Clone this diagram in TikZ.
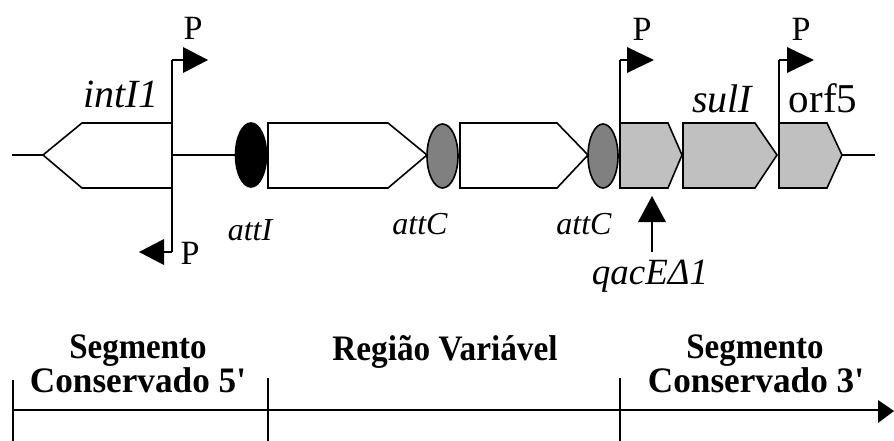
\documentclass[tikz,border=0pt]{standalone}
\usepackage{fontspec}
\usepackage{graphicx}
\setmainfont{Liberation Serif}
\newfontfamily\tnr{Liberation Serif}
\usetikzlibrary{shapes.geometric}
\definecolor{attgray}{RGB}{128,128,128}
\definecolor{genegray}{RGB}{192,192,192}
\begin{document}
\begin{tikzpicture}[x=1pt,y=-1pt,line width=1.6pt,
  gene/.style={draw=black,line width=1.6pt,line join=miter,fill=white},
  cgene/.style={gene,fill=genegray},
  att/.style={ellipse,draw=black,line width=1.6pt,inner sep=0pt,minimum width=31pt,minimum height=64pt},
  tip/.style={fill=black,draw=none},
  itlab/.style={font=\fontsize{40}{44}\selectfont\itshape,anchor=base,inner sep=0pt},
  smlab/.style={font=\fontsize{32}{36}\selectfont\itshape,anchor=base,inner sep=0pt},
  plab/.style={font=\fontsize{34}{38}\selectfont,anchor=base,inner sep=0pt},
  seglab/.style={font=\tnr\bfseries\fontsize{32}{38}\selectfont,anchor=base,inner sep=0pt}]
\useasboundingbox (0,0) rectangle (894,441);
\fill[white] (0,0) rectangle (894,441);

% backbone coordinates
\coordinate (lstart) at (12,155);
\coordinate (lend) at (875,155);

% genes
\draw[gene] (172,123) -- (82,123) -- (43,155) -- (82,188) -- (172,188) -- cycle;
\coordinate (intItip) at (43,155);
\coordinate (intIright) at (172,155);
\draw[gene] (268,123) -- (388,123) -- (427,155) -- (388,188) -- (268,188) -- cycle;
\draw[gene] (460,123) -- (557,123) -- (588,155) -- (557,188) -- (460,188) -- cycle;
\draw[cgene] (620,123) -- (668,123) -- (682,155) -- (668,188) -- (620,188) -- cycle;
\draw[cgene] (683,123) -- (755,123) -- (777,155) -- (755,188) -- (683,188) -- cycle;
\draw[cgene] (779,123) -- (827,123) -- (842,155) -- (827,188) -- (779,188) -- cycle;
\coordinate (orftip) at (842,155);

% att sites
\node[att,fill=black] (attI) at (251,155) {};
\node[att,fill=attgray] (attC1) at (442.5,156) {};
\node[att,fill=attgray,minimum width=30pt] (attC2) at (603,156) {};

% backbone line pieces
\draw (lstart) -- (intItip);
\draw (intIright) -- (attI.west);
\draw (orftip) -- (lend);

% promoter P (intI1)
\coordinate (p1top) at (172,60);
\coordinate (p1bot) at (172,252);
\draw (p1top) -- (p1bot);
\draw (p1top) -- (184,60);
\fill[tip] (183,47) -- (208,60) -- (183,73) -- cycle;
\draw (p1bot) -- (162,252);
\fill[tip] (164,239) -- (139,252) -- (164,265) -- cycle;
\node[plab] (P1) at (193,40) {P};
\node[plab] (P1b) at (190,264) {P};

% promoter P (3' CS)
\coordinate (p2top) at (620,60);
\coordinate (p2bot) at (620,123);
\draw (p2top) -- (p2bot);
\draw (p2top) -- (628,60);
\fill[tip] (627,47) -- (654,60) -- (627,73) -- cycle;
\node[plab] (P2) at (642,41) {P};

\coordinate (p3top) at (779,60);
\coordinate (p3bot) at (779,123);
\draw (p3top) -- (p3bot);
\draw (p3top) -- (788,60);
\fill[tip] (787,47) -- (814,60) -- (787,73) -- cycle;
\node[plab] (P3) at (801,41) {P};

% gene labels
\node[itlab] (lintI) at (121,108) {intI1};
\node[itlab] (lsul) at (722,113) {sulI};
\node[plab,font=\fontsize{41}{44}\selectfont] (lorf) at (823,113) {orf5};
\node[smlab] (lattI) at (250,240) {attI};
\node[smlab] (lattC1) at (420,234) {attC};
\node[smlab] (lattC2) at (584,234) {attC};
\node[smlab,font=\fontsize{37}{40}\selectfont\itshape] (lqac) at (650,284) {qacEΔ1};

% qacE arrow
\coordinate (qtail) at (652,252);
\draw (qtail) -- (652,220);
\fill[tip] (638,222) -- (652,196) -- (666,222) -- cycle;

% bottom scale
\coordinate (s0) at (13,410);
\coordinate (s1) at (268,410);
\coordinate (s2) at (620,410);
\coordinate (send) at (880,410);
\draw (s0) -- (send);
\fill[tip] (878,400) -- (894,411) -- (878,423) -- cycle;
\draw (13,380) -- (13,441);
\draw (268,378) -- (268,441);
\draw (620,378) -- (620,441);

\node[seglab] (seg5a) at (138,358) {\scalebox{1.03}[1.12]{Segmento}};
\node[seglab] (seg5b) at (138,392) {\scalebox{1.1}[1.12]{Conservado 5'}};
\node[seglab] (regv) at (445,360) {\scalebox{1.04}[1.12]{Região Variável}};
\node[seglab] (seg3a) at (755,358) {\scalebox{1.03}[1.12]{Segmento}};
\node[seglab] (seg3b) at (756,392) {\scalebox{1.1}[1.12]{Conservado 3'}};
\end{tikzpicture}
\end{document}
